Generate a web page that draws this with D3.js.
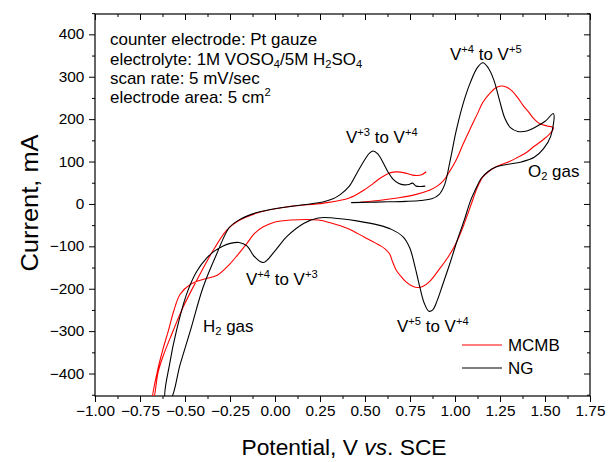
<!DOCTYPE html>
<html>
<head>
<meta charset="utf-8">
<script src="https://cdn.jsdelivr.net/npm/d3@7"></script>
<style>
  body { margin: 0; background: #fff; }
  svg { display: block; font-family: "Liberation Sans", Arial, sans-serif; }
</style>
</head>
<body>
<div id="chart"></div>
<script>
"use strict";

// cyclic voltammograms, points in scan order
// NG: anodic from 0.42 V up to ~1.55 V, cathodic down to the H2 region, then back up to ~0.83 V
var ngPotential = [0.423, 0.525, 0.627, 0.728, 0.81, 0.871, 0.911, 0.942, 0.972, 1.008, 1.044, 1.084, 1.125, 1.155, 1.186, 1.216, 1.247, 1.277, 1.308, 1.349, 1.399, 1.45, 1.501, 1.547,
  1.532, 1.491, 1.44, 1.369, 1.288, 1.227, 1.186, 1.145, 1.115, 1.084, 1.054, 1.013, 0.972, 0.932, 0.901, 0.876, 0.855, 0.83, 0.805, 0.779, 0.749, 0.713, 0.647, 0.576, 0.454, 0.322, 0.24, 0.159, 0.068, 0.001, -0.065, -0.115, -0.156, -0.2, -0.248, -0.288, -0.339, -0.38, -0.436, -0.492, -0.548, -0.583, -0.609,
  -0.58, -0.528, -0.471, -0.4, -0.324, -0.253, -0.197, -0.105, 0.017, 0.159, 0.271, 0.322, 0.362, 0.413, 0.454, 0.495, 0.525, 0.545, 0.571, 0.601, 0.627, 0.657, 0.688, 0.718, 0.744, 0.764, 0.784, 0.81, 0.835];
var ngCurrent = [3, 4, 5, 6, 8, 12, 22, 45, 100, 175, 235, 285, 322, 333, 320, 292, 245, 202, 180, 171, 172, 182, 195, 213,
  160, 130, 110, 99, 93, 87, 77, 60, 35, 5, -35, -85, -140, -190, -228, -250, -253, -235, -197, -150, -104, -78, -60, -50, -40, -33, -33, -46, -76, -110, -138, -124, -99, -91, -93, -99, -112, -128, -160, -214, -300, -372, -460,
  -460, -380, -300, -197, -118, -55, -37, -21, -10, -2, 5, 12, 22, 42, 72, 102, 120, 125, 118, 97, 76, 58, 48, 45, 46, 49, 42, 41, 42];

// MCMB: same scan programme
var mcmbPotential = [0.474, 0.576, 0.678, 0.779, 0.861, 0.901, 0.932, 0.972, 1.008, 1.044, 1.084, 1.125, 1.155, 1.196, 1.227, 1.257, 1.288, 1.318, 1.349, 1.379, 1.41, 1.44, 1.471, 1.511, 1.547,
  1.532, 1.491, 1.44, 1.399, 1.349, 1.308, 1.257, 1.216, 1.186, 1.155, 1.125, 1.099, 1.074, 1.044, 1.003, 0.962, 0.916, 0.861, 0.82, 0.789, 0.759, 0.728, 0.698, 0.672, 0.652, 0.637, 0.611, 0.583, 0.495, 0.404, 0.312, 0.24, 0.088, -0.004, -0.065, -0.115, -0.156, -0.207, -0.254, -0.324, -0.4, -0.471, -0.527, -0.563, -0.593, -0.624, -0.654, -0.68,
  -0.675, -0.649, -0.614, -0.583, -0.512, -0.436, -0.344, -0.268, -0.212, -0.105, 0.078, 0.271, 0.413, 0.495, 0.545, 0.586, 0.627, 0.657, 0.698, 0.733, 0.764, 0.789, 0.815, 0.84];
var mcmbCurrent = [4, 8, 14, 22, 33, 42, 53, 78, 105, 140, 177, 213, 240, 262, 274, 278, 275, 266, 250, 232, 216, 200, 189, 184, 180,
  168, 152, 136, 122, 110, 101, 93, 85, 76, 64, 40, 10, -20, -55, -95, -125, -152, -182, -195, -197, -193, -184, -170, -155, -135, -118, -106, -98, -78, -58, -45, -38, -38, -43, -54, -70, -93, -120, -143, -169, -178, -190, -213, -253, -300, -345, -396, -460,
  -460, -396, -350, -317, -245, -181, -110, -62, -42, -22, -6, 2, 14, 33, 48, 61, 71, 75, 75, 72, 68, 67, 69, 76];

var xTicks = [-1.00, -0.75, -0.50, -0.25, 0.00, 0.25, 0.50, 0.75, 1.00, 1.25, 1.50, 1.75];
var yTicks = [-400, -300, -200, -100, 0, 100, 200, 300, 400];
var seriesNames = ["MCMB", "NG"];
var seriesColors = ["#ff0000", "#000000"];

var width = 611, height = 462;
var frame = { left: 95, right: 590, top: 14, bottom: 396 };
var sx = 1.06; // glyphs in the picture are a bit wide

var svg = d3.select("#chart").append("svg")
  .attr("width", width)
  .attr("height", height);

var x = d3.scaleLinear().domain([-1, 1.75]).range([frame.left, frame.right]);
var y = d3.scaleLinear().domain([-453, 448]).range([frame.bottom, frame.top]);

var xMinor = xTicks.slice(0, -1).map(function (t) { return t + 0.125; });
var yMinor = d3.range(-450, 451, 100);

// axes
function styleAxis(g) {
  g.select(".domain").remove();
  g.selectAll(".tick line").attr("stroke", "#000");
}

var bottomAxis = svg.append("g")
  .attr("transform", "translate(0," + frame.bottom + ")")
  .call(d3.axisBottom(x).tickValues(xTicks).tickFormat(d3.format(".2f")).tickSize(6).tickPadding(4))
  .call(styleAxis);
bottomAxis.selectAll("text")
  .attr("font-size", 14.5).attr("fill", "#000")
  .attr("transform", "scale(" + sx + ",1)");
svg.append("g")
  .attr("transform", "translate(0," + frame.bottom + ")")
  .call(d3.axisBottom(x).tickValues(xMinor).tickFormat("").tickSize(3))
  .call(styleAxis);

var leftAxis = svg.append("g")
  .attr("transform", "translate(" + frame.left + ",0)")
  .call(d3.axisLeft(y).tickValues(yTicks).tickFormat(d3.format("d")).tickSize(6).tickPadding(4))
  .call(styleAxis);
leftAxis.selectAll("text")
  .attr("font-size", 14.5).attr("fill", "#000")
  .attr("transform", "scale(" + sx + ",1)");
svg.append("g")
  .attr("transform", "translate(" + frame.left + ",0)")
  .call(d3.axisLeft(y).tickValues(yMinor).tickFormat("").tickSize(3))
  .call(styleAxis);

// top and right: inward ticks only
svg.append("g")
  .attr("transform", "translate(0," + frame.top + ")")
  .call(d3.axisTop(x).tickValues(xTicks).tickFormat("").tickSize(-6))
  .call(styleAxis);
svg.append("g")
  .attr("transform", "translate(0," + frame.top + ")")
  .call(d3.axisTop(x).tickValues(xMinor).tickFormat("").tickSize(-3))
  .call(styleAxis);
svg.append("g")
  .attr("transform", "translate(" + frame.right + ",0)")
  .call(d3.axisRight(y).tickValues(yTicks).tickFormat("").tickSize(-6))
  .call(styleAxis);
svg.append("g")
  .attr("transform", "translate(" + frame.right + ",0)")
  .call(d3.axisRight(y).tickValues(yMinor).tickFormat("").tickSize(-3))
  .call(styleAxis);

svg.append("rect")
  .attr("x", frame.left).attr("y", frame.top)
  .attr("width", frame.right - frame.left).attr("height", frame.bottom - frame.top)
  .attr("fill", "none").attr("stroke", "#000").attr("stroke-width", 1.2);

// curves
svg.append("clipPath").attr("id", "plotclip")
  .append("rect")
  .attr("x", frame.left).attr("y", frame.top)
  .attr("width", frame.right - frame.left).attr("height", frame.bottom - frame.top);

var line = d3.line()
  .x(function (d) { return x(d[0]); })
  .y(function (d) { return y(d[1]); })
  .curve(d3.curveCatmullRom.alpha(0.5));

var curves = [d3.zip(mcmbPotential, mcmbCurrent), d3.zip(ngPotential, ngCurrent)];
svg.append("g").attr("clip-path", "url(#plotclip)")
  .selectAll("path")
  .data(curves)
  .enter()
  .append("path")
  .attr("d", line)
  .attr("fill", "none")
  .attr("stroke", function (d, i) { return seriesColors[i]; })
  .attr("stroke-width", 1.1);

// text with sub/superscripts; parts = [[text, "" | "sup" | "sub", italic], ...]
function label(px, py, parts, size, anchor, rotate) {
  var g = svg.append("g")
    .attr("transform", "translate(" + px + "," + py + ")" + (rotate ? " rotate(" + rotate + ")" : "") + " scale(" + sx + ",1)");
  var t = g.append("text")
    .attr("font-size", size)
    .attr("fill", "#000")
    .attr("text-anchor", anchor || "start");
  var shift = 0;
  parts.forEach(function (p) {
    var want = p[1] === "sup" ? -0.42 * size : p[1] === "sub" ? 0.2 * size : 0;
    var ts = t.append("tspan").text(p[0]).attr("dy", want - shift);
    if (p[1]) ts.attr("font-size", size * 0.66);
    if (p[2]) ts.attr("font-style", "italic");
    shift = want;
  });
  return t;
}

var info = 16;
label(110, 45, [["counter electrode: Pt gauze", ""]], info);
label(110, 65, [["electrolyte: 1M VOSO", ""], ["4", "sub"], ["/5M H", ""], ["2", "sub"], ["SO", ""], ["4", "sub"]], info);
label(110, 84, [["scan rate: 5 mV/sec", ""]], info);
label(110, 103, [["electrode area: 5 cm", ""], ["2", "sup"]], info);

label(450, 60, [["V", ""], ["+4", "sup"], [" to V", ""], ["+5", "sup"]], info);
label(346, 143, [["V", ""], ["+3", "sup"], [" to V", ""], ["+4", "sup"]], info);
label(528, 177, [["O", ""], ["2", "sub"], [" gas", ""]], info);
label(246, 285, [["V", ""], ["+4", "sup"], [" to V", ""], ["+3", "sup"]], info);
label(203, 332, [["H", ""], ["2", "sub"], [" gas", ""]], info);
label(397, 332, [["V", ""], ["+5", "sup"], [" to V", ""], ["+4", "sup"]], info);

// legend
var legend = svg.append("g");
seriesNames.forEach(function (name, i) {
  var ly = 345 + i * 23;
  legend.append("line")
    .attr("x1", 462).attr("x2", 502)
    .attr("y1", ly).attr("y2", ly)
    .attr("stroke", seriesColors[i]).attr("stroke-width", 1.1);
  label(508, ly + 6, [[name, ""]], info);
});

// axis titles
label(344, 455, [["Potential, V ", ""], ["vs", "", true], [". SCE", ""]], 21.5, "middle");
label(38, 203, [["Current, mA", ""]], 24, "middle", -90);
</script>
</body>
</html>
